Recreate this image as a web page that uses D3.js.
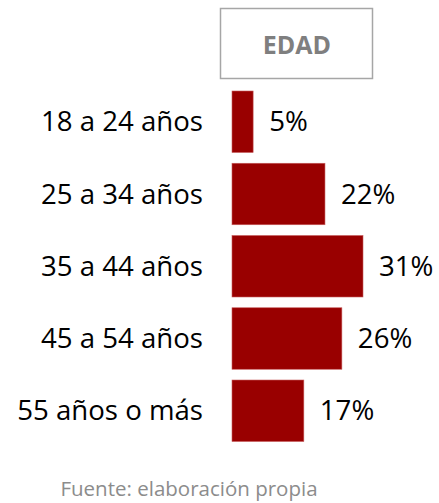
<!DOCTYPE html>
<html>
<head>
<meta charset="utf-8">
<script src="https://cdn.jsdelivr.net/npm/d3@7"></script>
<style>
  body { margin: 0; background: #fff; }
  svg { display: block; font-family: "Open Sans", sans-serif; }
</style>
</head>
<body>
<svg></svg>
<script>
// data
const categories = ["18 a 24 años", "25 a 34 años", "35 a 44 años", "45 a 54 años", "55 años o más"];
const values = [5, 22, 31, 26, 17];
const title = "EDAD";
const source = "Fuente: elaboración propia";

const w = 439;
const h = 503;
const svg = d3.select("svg")
              .attr("width", w)
              .attr("height", h);

const xScale = d3.scaleLinear()
                 .domain([0, 31])
                 .range([232, 363]);

const yScale = d3.scaleBand()
                 .domain(categories)
                 .range([91, 441.5])
                 .paddingInner(0.149)
                 .paddingOuter(0);

// header box
svg.append("rect")
   .attr("x", 220.5)
   .attr("y", 8.5)
   .attr("width", 152)
   .attr("height", 70)
   .attr("fill", "none")
   .attr("stroke", "#a6a6a6")
   .attr("stroke-width", 1.5);

svg.append("text")
   .text(title)
   .attr("x", 297)
   .attr("y", 54)
   .attr("text-anchor", "middle")
   .attr("font-weight", "bold")
   .attr("font-size", 25)
   .attr("fill", "#7f7f7f");

const data = categories.map((c, i) => ({cat: c, val: values[i]}));

// bars
svg.selectAll("rect.bar")
   .data(data)
   .enter()
   .append("rect")
   .attr("class", "bar")
   .attr("x", xScale(0))
   .attr("y", d => yScale(d.cat))
   .attr("width", d => xScale(d.val) - xScale(0))
   .attr("height", yScale.bandwidth())
   .attr("fill", "#990000")
   .attr("stroke", "#c65b5b")
   .attr("stroke-width", 0.6);

// category labels
svg.selectAll("text.cat")
   .data(data)
   .enter()
   .append("text")
   .attr("class", "cat")
   .text(d => d.cat)
   .attr("x", 203)
   .attr("y", d => yScale(d.cat) + yScale.bandwidth() / 2)
   .attr("dy", "0.35em")
   .attr("text-anchor", "end")
   .attr("font-size", 27.6)
   .attr("fill", "#000");

// value labels
svg.selectAll("text.val")
   .data(data)
   .enter()
   .append("text")
   .attr("class", "val")
   .text(d => d.val + "%")
   .attr("x", d => xScale(d.val) + 16)
   .attr("y", d => yScale(d.cat) + yScale.bandwidth() / 2)
   .attr("dy", "0.35em")
   .attr("font-size", 27.6)
   .attr("fill", "#000");

// source note
svg.append("text")
   .text(source)
   .attr("x", 189)
   .attr("y", 496)
   .attr("text-anchor", "middle")
   .attr("font-size", 20.5)
   .attr("fill", "#8c8c8c");
</script>
</body>
</html>
